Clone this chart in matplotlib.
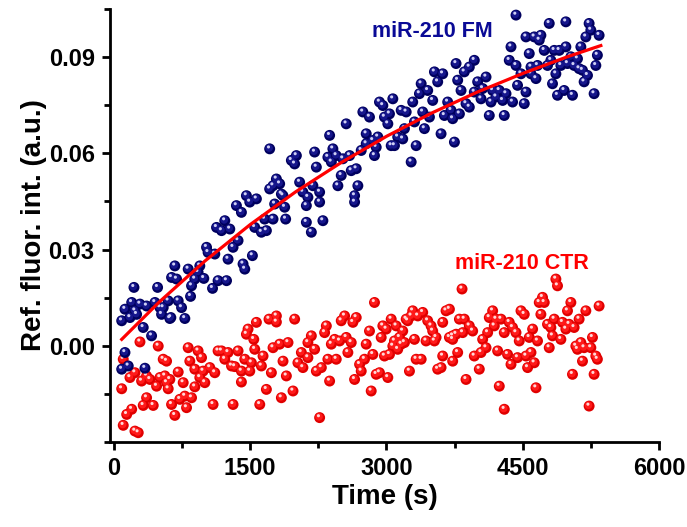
import matplotlib
matplotlib.use('Agg')
import matplotlib.pyplot as plt
from matplotlib.ticker import MultipleLocator, FixedLocator, FormatStrFormatter
from matplotlib.transforms import offset_copy

plt.rcParams['font.family'] = ['Liberation Sans', 'DejaVu Sans']
plt.rcParams['font.weight'] = 'bold'

# miR-210 FM (blue points)
fm_time = [85, 121, 195, 220, 176, 249, 286, 359, 322, 414, 451, 480, 524, 542, 597, 626,
           670, 634, 689, 707, 744, 780, 817, 843, 854, 890, 926, 945, 989, 1019, 1036, 1085,
           1110, 1146, 1129, 1184, 1220, 1239, 1256, 1275, 1311, 1366, 1348, 1403, 1421, 1440,
           1458, 1495, 1524, 1568, 1550, 1623, 1659, 1678, 1751, 1769, 1714, 1843, 1879, 1890,
           121, 85, 157, 341, 231, 506, 615, 1714, 1788, 1824, 1751, 1861, 1953, 2008, 1989,
           2044, 2080, 2135, 2118, 2118, 2173, 2209, 2228, 2190, 2264, 2264, 2300, 2355, 2374,
           2410, 2393, 2447, 2465, 2502, 2520, 2557, 2594, 2612, 2649, 2649, 2667, 2685, 2722,
           2740, 2777, 2777, 2813, 2850, 2868, 2905, 2887, 2923, 2960, 2978, 3015, 3033, 3052,
           3070, 3088, 3124, 3162, 3179, 3217, 3198, 3272, 3289, 3308, 3327, 3363, 3382, 3399,
           3418, 3454, 3473, 3509, 3528, 3564, 3601, 3619, 3638, 3674, 3711, 3729, 3748, 3784,
           3803, 3821, 3876, 3857, 3766, 3912, 3967, 3912, 3967, 4004, 4041, 4096, 4059, 4132,
           4151, 4169, 4206, 4242, 4279, 4297, 4316, 4371, 4352, 4388, 4426, 4426, 4443, 4481,
           4517, 4536, 4536, 4572, 4591, 4627, 4591, 4646, 4663, 4700, 4682, 4737, 4773, 4792,
           4810, 4828, 4847, 4865, 4883, 4902, 4920, 4956, 4975, 4975, 4993, 5030, 5048, 5066,
           5103, 5121, 5140, 5158, 5176, 5195, 5213, 5231, 5250, 5286, 5305, 5322, 5341]
fm_int = [0.0078, 0.0114, 0.0135, 0.0182, 0.0088, 0.0098, 0.0130, 0.0124, 0.0057, 0.0031,
          0.0135, 0.0182, 0.0098, 0.0119, 0.0140, 0.0088, 0.0249, 0.0213, 0.0208, 0.0140,
          0.0119, 0.0085, 0.0239, 0.0154, 0.0187, 0.0208, 0.0229, 0.0249, 0.0210, 0.0307,
          0.0291, 0.0179, 0.0286, 0.0203, 0.0369, 0.0359, 0.0390, 0.0203, 0.0270, 0.0364,
          0.0307, 0.0328, 0.0437, 0.0416, 0.0255, 0.0239, 0.0468, 0.0448, 0.0281, 0.0458,
          0.0369, 0.0354, 0.0395, 0.0359, 0.0395, 0.0442, 0.0489, 0.0473, 0.0432, 0.0395,
          -0.0021, -0.0073, -0.0063, -0.0070, 0.0109, 0.0119, 0.0085, 0.0614, 0.0520, 0.0505,
          0.0499, 0.0468, 0.0578, 0.0593, 0.0567, 0.0510, 0.0479, 0.0463, 0.0437, 0.0385,
          0.0354, 0.0604, 0.0557, 0.0499, 0.0479, 0.0448, 0.0390, 0.0588, 0.0656, 0.0614,
          0.0573, 0.0593, 0.0499, 0.0531, 0.0583, 0.0692, 0.0593, 0.0546, 0.0468, 0.0448,
          0.0552, 0.0499, 0.0609, 0.0729, 0.0661, 0.0630, 0.0713, 0.0640, 0.0593, 0.0651,
          0.0619, 0.0760, 0.0749, 0.0713, 0.0692, 0.0723, 0.0624, 0.0770, 0.0624, 0.0651,
          0.0734, 0.0645, 0.0729, 0.0677, 0.0573, 0.0760, 0.0698, 0.0624, 0.0786, 0.0817,
          0.0729, 0.0677, 0.0796, 0.0713, 0.0765, 0.0854, 0.0823, 0.0661, 0.0848, 0.0718,
          0.0760, 0.0734, 0.0708, 0.0635, 0.0828, 0.0723, 0.0796, 0.0755, 0.0854, 0.0880,
          0.0869, 0.0890, 0.0744, 0.0791, 0.0823, 0.0770, 0.0838, 0.0802, 0.0718, 0.0760,
          0.0796, 0.0776, 0.0796, 0.0765, 0.0718, 0.0786, 0.0932, 0.0890, 0.0760, 0.0874,
          0.1031, 0.0812, 0.0848, 0.0755, 0.0963, 0.0791, 0.0911, 0.0869, 0.0963, 0.0848,
          0.0833, 0.0874, 0.0968, 0.0953, 0.0921, 0.0874, 0.1005, 0.0890, 0.0817, 0.0921,
          0.0848, 0.0781, 0.0921, 0.0874, 0.0796, 0.0932, 0.1010, 0.0880, 0.0901, 0.0781,
          0.0874, 0.0895, 0.0864, 0.0932, 0.0859, 0.0823, 0.0963, 0.0843, 0.1005, 0.0984,
          0.0786, 0.0874, 0.0906, 0.0968]

# miR-210 CTR (red points)
ctr_time = [286, 487, 102, 176, 231, 85, 304, 359, 396, 469, 506, 542, 579, 560, 579, 615,
            597, 359, 322, 432, 195, 140, 102, 231, 267, 634, 670, 707, 725, 762, 780, 799,
            817, 854, 835, 890, 890, 926, 945, 964, 1000, 981, 1055, 1091, 1110, 1146, 1184,
            1220, 1256, 1294, 1330, 1311, 1366, 1403, 1403, 1440, 1458, 1476, 1495, 1513, 1539,
            1550, 1568, 1605, 1623, 1641, 1678, 1707, 1733, 1751, 1788, 1788, 1824, 1843, 1861,
            1898, 1916, 1989, 1971, 2063, 2025, 2080, 2135, 2173, 2135, 2209, 2228, 2283, 2319,
            2338, 2355, 2374, 2393, 2429, 2447, 2502, 2539, 2484, 2557, 2575, 2612, 2630, 2667,
            2649, 2704, 2722, 2758, 2777, 2813, 2832, 2850, 2868, 2887, 2923, 2942, 2960, 2978,
            2997, 3015, 3033, 3052, 3070, 3088, 3107, 3124, 3143, 3162, 3179, 3198, 3217, 3253,
            3234, 3272, 3289, 3308, 3327, 3345, 3382, 3399, 3436, 3454, 3491, 3509, 3528, 3546,
            3564, 3601, 3619, 3619, 3656, 3693, 3729, 3729, 3766, 3784, 3803, 3832, 3839, 3857,
            3876, 2264, 3693, 3729, 3912, 3949, 3967, 4022, 4041, 4059, 4096, 4114, 4132, 4169,
            4187, 4224, 4242, 4206, 4261, 4297, 4297, 4333, 4352, 4371, 4388, 4426, 4443, 4462,
            4481, 4517, 4536, 4554, 4572, 4591, 4609, 4627, 4646, 4663, 4682, 4700, 4718, 4737,
            4773, 4792, 4810, 4828, 4847, 4865, 4883, 4920, 4938, 4975, 4993, 5011, 5030, 5066,
            5048, 5085, 5103, 5121, 5140, 5158, 5176, 5195, 5231, 5250, 5268, 5286, 5305, 5322,
            5341]
ctr_int = [0.0012, -0.0001, -0.0042, -0.0099, -0.0084, -0.0134, -0.0110, -0.0094, -0.0105,
           -0.0126, -0.0099, -0.0042, -0.0048, -0.0094, -0.0115, -0.0105, -0.0134, -0.0162,
           -0.0186, -0.0186, -0.0198, -0.0214, -0.0248, -0.0266, -0.0271, -0.0183, -0.0217,
           -0.0082, -0.0167, -0.0115, -0.0157, -0.0193, -0.0006, -0.0162, -0.0048, -0.0073,
           -0.0128, -0.0016, -0.0099, -0.0037, -0.0115, -0.0079, -0.0068, -0.0183, -0.0084,
           -0.0016, -0.0016, -0.0042, -0.0021, -0.0063, -0.0065, -0.0183, -0.0016, -0.0079,
           -0.0113, -0.0042, 0.0036, 0.0052, -0.0079, -0.0053, 0.0020, -0.0011, 0.0073,
           -0.0183, -0.0063, -0.0032, -0.0136, 0.0083, -0.0084, -0.0006, 0.0093, 0.0074,
           0.0005, -0.0162, -0.0048, -0.0094, 0.0010, 0.0083, -0.0141, -0.0021, -0.0053,
           -0.0068, 0.0010, 0.0031, -0.0037, -0.0011, -0.0079, -0.0068, 0.0041, 0.0062,
           -0.0042, -0.0110, 0.0005, 0.0020, -0.0042, 0.0078, 0.0093, 0.0015, 0.0026, -0.0021,
           0.0010, 0.0073, 0.0088, -0.0105, -0.0058, -0.0079, -0.0042, 0.0005, 0.0046,
           -0.0141, -0.0027, 0.0135, -0.0089, -0.0084, 0.0026, 0.0062, -0.0032, 0.0052,
           -0.0099, -0.0027, 0.0083, -0.0001, 0.0015, 0.0062, -0.0011, 0.0026, 0.0005, 0.0046,
           0.0010, 0.0083, -0.0079, 0.0078, 0.0093, 0.0109, 0.0020, -0.0042, 0.0093, -0.0042,
           0.0104, 0.0015, 0.0078, 0.0062, 0.0046, 0.0015, 0.0026, -0.0073, -0.0068, 0.0073,
           -0.0032, 0.0109, 0.0026, -0.0048, 0.0020, 0.0036, -0.0021, 0.0083, 0.0177, 0.0041,
           0.0083, -0.0105, -0.0224, 0.0114, 0.0031, 0.0062, 0.0046, -0.0032, -0.0073, -0.0021,
           0.0020, -0.0006, 0.0041, 0.0088, 0.0109, 0.0062, -0.0016, -0.0126, 0.0083, 0.0083,
           0.0041, -0.0198, -0.0027, 0.0073, -0.0058, 0.0057, 0.0041, -0.0037, 0.0015, 0.0109,
           0.0098, -0.0032, -0.0068, 0.0026, -0.0021, 0.0052, -0.0053, -0.0131, 0.0015, 0.0135,
           0.0098, 0.0151, 0.0135, 0.0067, -0.0006, 0.0057, 0.0031, 0.0083, 0.0208, 0.0187,
           0.0020, 0.0073, 0.0052, 0.0109, 0.0067, 0.0135, 0.0057, -0.0089, -0.0001, -0.0011,
           0.0083, 0.0010, -0.0048, -0.0006, 0.0109, -0.0188, -0.0006, 0.0026, -0.0089, -0.0032,
           -0.0042, 0.0124]

# fitted curve for FM
fit_time = [85, 500, 1000, 1500, 2000, 2500, 3000, 3500, 4000, 4500, 5000, 5360]
fit_int = [0.0020, 0.0137, 0.0264, 0.0378, 0.0480, 0.0571, 0.0653, 0.0726, 0.0791, 0.0849,
           0.0902, 0.0936]

y_major = [0.00, 0.03, 0.06, 0.09]
y_minor = [-0.03, -0.015, 0.015, 0.045, 0.075, 0.105]

fig = plt.figure(figsize=(6.87, 5.27), dpi=100)
ax = fig.add_axes([0.1601, 0.1613, 0.7991, 0.8216])


def spheres(x, y, dark, mid, light, z):
    # fake 3D ball: dark body, lighter core, small white highlight
    ax.scatter(x, y, s=62, c=dark, edgecolors='none', zorder=z)
    t1 = offset_copy(ax.transData, fig=fig, x=-0.6, y=0.8, units='dots')
    ax.scatter(x, y, s=30, c=mid, edgecolors='none', zorder=z + 0.1, transform=t1)
    t2 = offset_copy(ax.transData, fig=fig, x=-1.2, y=1.9, units='dots')
    ax.scatter(x, y, s=5, c=light, edgecolors='none', zorder=z + 0.2, transform=t2)


spheres(ctr_time, ctr_int, '#e00000', '#ff1a1a', '#ffd8d8', 2)
spheres(fm_time, fm_int, '#00005e', '#16168c', '#cfcff4', 3)
ax.plot(fit_time, fit_int, color='#ff0000', lw=2.3, zorder=5)

ax.text(3506, 0.0980, 'miR-210 FM', color='#0a0a96', fontsize=15.5, fontweight='bold',
        ha='center', va='center')
ax.text(4492, 0.0258, 'miR-210 CTR', color='#ff0000', fontsize=15.5, fontweight='bold',
        ha='center', va='center')

ax.set_xlim(-44, 6000)
ax.set_ylim(-0.03, 0.105)
ax.xaxis.set_major_locator(MultipleLocator(1500))
ax.xaxis.set_minor_locator(MultipleLocator(750))
ax.yaxis.set_major_locator(FixedLocator(y_major))
ax.yaxis.set_minor_locator(FixedLocator(y_minor))
ax.yaxis.set_major_formatter(FormatStrFormatter('%.2f'))

for s in ['top', 'right']:
    ax.spines[s].set_visible(False)
for s in ['left', 'bottom']:
    ax.spines[s].set_linewidth(2)

ax.tick_params(which='major', direction='out', length=6, width=2, labelsize=17, pad=5)
ax.tick_params(which='minor', direction='out', length=4, width=2)
for lab in ax.get_xticklabels() + ax.get_yticklabels():
    lab.set_fontweight('bold')

ax.set_xlabel('Time (s)', fontsize=20, fontweight='bold', labelpad=3)
ax.set_ylabel('Ref. fluor. int. (a.u.)', fontsize=20, fontweight='bold', labelpad=1.5)

fig.savefig('out.png', dpi=100)
